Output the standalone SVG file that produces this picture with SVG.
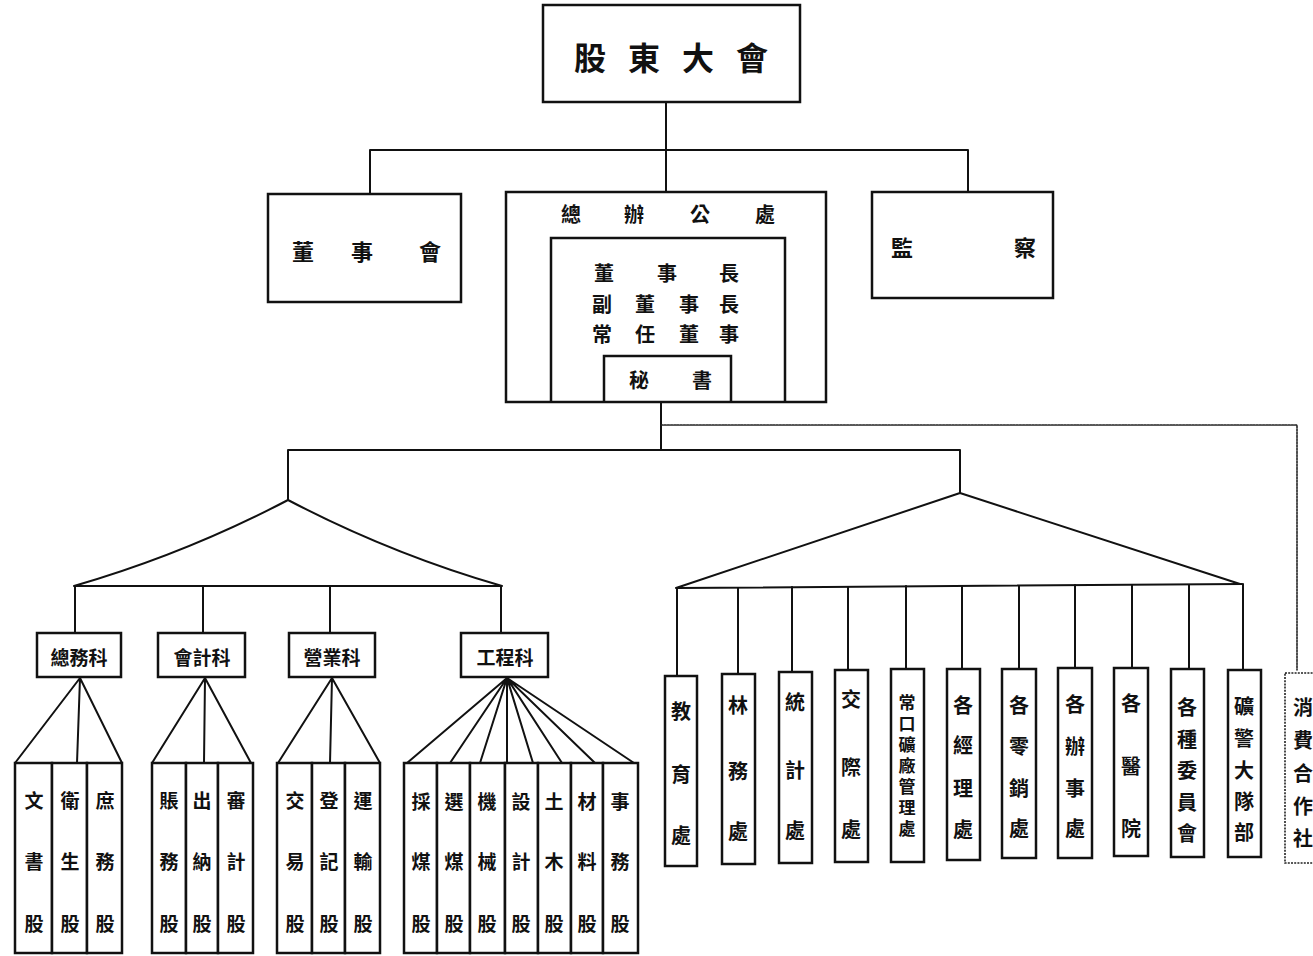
<svg xmlns="http://www.w3.org/2000/svg" width="1313" height="956" viewBox="0 0 1313 956">
<style>
  .bx{fill:#fff;stroke:#111;stroke-width:2.5}
  .ob{fill:none;stroke:#111;stroke-width:2.5}
  .dot{fill:none;stroke:#222;stroke-width:1.6;stroke-dasharray:2 1.2}
  .ln{fill:none;stroke:#111;stroke-width:2;stroke-linecap:round;stroke-linejoin:round}
  text{font-family:"Noto Sans CJK TC","Noto Sans CJK JP",sans-serif;font-weight:700;fill:#111;text-anchor:middle;dominant-baseline:central}
  .t32{font-size:32px}
  .t22{font-size:22px}
  .t20{font-size:20px}
  .t19{font-size:19px}
  .vt{font-size:17px;writing-mode:vertical-rl;letter-spacing:4px}
</style>
<rect width="1313" height="956" fill="#fff"/>
<g id="connectors" class="ln">
  <path d="M666,102 V150 M370,150 H968 M370,150 V194 M666,150 V192 M968,150 V192"/>
  <path d="M661,402 V450 M288,450 H960 M288,450 V500 M960,450 V493"/>
  <path d="M288,500 Q185,554 74,586 M288,500 Q391,554 502,586 M74,586 H502"/>
  <path d="M75,586 V633 M203,586 V633 M330,586 V633 M501,586 V633"/>
  <path d="M676,588 L960,493 L1240,584 M676,588 L1242,584"/>
  <path d="M677,588 V676 M738,588 V674 M792,587 V672 M848,587 V670 M906,586 V669 M962,586 V669 M1019,586 V669 M1075,585 V668 M1132,585 V668 M1189,585 V669 M1243,584 V670"/>
  <path d="M80,678 L15,763 M80,678 L77,763 M80,678 L122,763"/>
  <path d="M205,678 L152,763 M205,678 L204,763 M205,678 L251,763"/>
  <path d="M332,678 L278,763 M332,678 L330,763 M332,678 L380,763"/>
  <path d="M507,678 L407,763 M507,678 L450,763 M507,678 L480,763 M507,678 L507,763 M507,678 L533,763 M507,678 L562,763 M507,678 L595,763 M507,678 L634,763"/>
  <path class="dot" d="M661,425 H1297 V670"/>
</g>
<g id="n-gudong"><rect class="bx" x="543" y="5" width="257" height="97"/>
  <text class="t32"><tspan x="590" y="56">股</tspan><tspan x="644" y="56">東</tspan><tspan x="698" y="56">大</tspan><tspan x="752" y="56">會</tspan></text></g>
<g id="n-dongshihui"><rect class="bx" x="268" y="194" width="193" height="108"/>
  <text class="t22"><tspan x="303" y="250">董</tspan><tspan x="362" y="250">事</tspan><tspan x="430" y="250">會</tspan></text></g>
<g id="n-zongban"><rect class="bx" x="506" y="192" width="320" height="210"/>
  <text class="t20"><tspan x="571" y="213">總</tspan><tspan x="634" y="213">辦</tspan><tspan x="700" y="213">公</tspan><tspan x="765" y="213">處</tspan></text>
  <path class="ob" d="M551,402 V238 H785 V402"/>
  <text class="t20"><tspan x="604" y="272">董</tspan><tspan x="667" y="272">事</tspan><tspan x="729" y="272">長</tspan><tspan x="602" y="303">副</tspan><tspan x="645" y="303">董</tspan><tspan x="689" y="303">事</tspan><tspan x="729" y="303">長</tspan><tspan x="602" y="333">常</tspan><tspan x="645" y="333">任</tspan><tspan x="689" y="333">董</tspan><tspan x="729" y="333">事</tspan></text>
  <path class="ob" d="M604,402 V356 H731 V402"/>
  <text class="t20"><tspan x="639" y="379">秘</tspan><tspan x="702" y="379">書</tspan></text></g>
<g id="n-jiancha"><rect class="bx" x="872" y="192" width="181" height="106"/>
  <text class="t22"><tspan x="902" y="246">監</tspan><tspan x="1025" y="246">察</tspan></text></g>
<g id="n-zongwuke"><rect class="bx" x="37" y="633" width="84" height="44"/><text class="t19" x="79" y="656">總務科</text></g>
<g id="n-kuaijike"><rect class="bx" x="158" y="633" width="87" height="44"/><text class="t19" x="202" y="656">會計科</text></g>
<g id="n-yingyeke"><rect class="bx" x="289" y="633" width="86" height="44"/><text class="t19" x="332" y="656">營業科</text></g>
<g id="n-gongchengke"><rect class="bx" x="461" y="633" width="87" height="44"/><text class="t19" x="505" y="656">工程科</text></g>
<g id="c1"><rect class="bx" x="15" y="763" width="37" height="190"/><text class="t19"><tspan x="34" y="799">文</tspan><tspan x="34" y="860">書</tspan><tspan x="34" y="922">股</tspan></text></g>
<g id="c2"><rect class="bx" x="52" y="763" width="35" height="190"/><text class="t19"><tspan x="70" y="799">衛</tspan><tspan x="70" y="860">生</tspan><tspan x="70" y="922">股</tspan></text></g>
<g id="c3"><rect class="bx" x="87" y="763" width="35" height="190"/><text class="t19"><tspan x="105" y="799">庶</tspan><tspan x="105" y="860">務</tspan><tspan x="105" y="922">股</tspan></text></g>
<g id="c4"><rect class="bx" x="152" y="763" width="34" height="190"/><text class="t19"><tspan x="169" y="799">賬</tspan><tspan x="169" y="860">務</tspan><tspan x="169" y="922">股</tspan></text></g>
<g id="c5"><rect class="bx" x="186" y="763" width="32" height="190"/><text class="t19"><tspan x="202" y="799">出</tspan><tspan x="202" y="860">納</tspan><tspan x="202" y="922">股</tspan></text></g>
<g id="c6"><rect class="bx" x="218" y="763" width="35" height="190"/><text class="t19"><tspan x="236" y="799">審</tspan><tspan x="236" y="860">計</tspan><tspan x="236" y="922">股</tspan></text></g>
<g id="c7"><rect class="bx" x="277" y="763" width="35" height="190"/><text class="t19"><tspan x="295" y="799">交</tspan><tspan x="295" y="860">易</tspan><tspan x="295" y="922">股</tspan></text></g>
<g id="c8"><rect class="bx" x="312" y="763" width="33" height="190"/><text class="t19"><tspan x="329" y="799">登</tspan><tspan x="329" y="860">記</tspan><tspan x="329" y="922">股</tspan></text></g>
<g id="c9"><rect class="bx" x="345" y="763" width="35" height="190"/><text class="t19"><tspan x="363" y="799">運</tspan><tspan x="363" y="860">輸</tspan><tspan x="363" y="922">股</tspan></text></g>
<g id="c10"><rect class="bx" x="404" y="763" width="33" height="190"/><text class="t19"><tspan x="421" y="800">採</tspan><tspan x="421" y="860">煤</tspan><tspan x="421" y="922">股</tspan></text></g>
<g id="c11"><rect class="bx" x="437" y="763" width="33" height="190"/><text class="t19"><tspan x="454" y="800">選</tspan><tspan x="454" y="860">煤</tspan><tspan x="454" y="922">股</tspan></text></g>
<g id="c12"><rect class="bx" x="470" y="763" width="35" height="190"/><text class="t19"><tspan x="487" y="800">機</tspan><tspan x="487" y="860">械</tspan><tspan x="487" y="922">股</tspan></text></g>
<g id="c13"><rect class="bx" x="505" y="763" width="33" height="190"/><text class="t19"><tspan x="521" y="800">設</tspan><tspan x="521" y="860">計</tspan><tspan x="521" y="922">股</tspan></text></g>
<g id="c14"><rect class="bx" x="538" y="763" width="33" height="190"/><text class="t19"><tspan x="554" y="800">土</tspan><tspan x="554" y="860">木</tspan><tspan x="554" y="922">股</tspan></text></g>
<g id="c15"><rect class="bx" x="571" y="763" width="32" height="190"/><text class="t19"><tspan x="587" y="800">材</tspan><tspan x="587" y="860">料</tspan><tspan x="587" y="922">股</tspan></text></g>
<g id="c16"><rect class="bx" x="603" y="763" width="35" height="190"/><text class="t19"><tspan x="620" y="800">事</tspan><tspan x="620" y="860">務</tspan><tspan x="620" y="922">股</tspan></text></g>
<g id="r1"><rect class="bx" x="665" y="676" width="32" height="190"/><text class="t20"><tspan x="681" y="710">教</tspan><tspan x="681" y="773">育</tspan><tspan x="681" y="834">處</tspan></text></g>
<g id="r2"><rect class="bx" x="722" y="674" width="33" height="190"/><text class="t20"><tspan x="738" y="704">林</tspan><tspan x="738" y="770">務</tspan><tspan x="738" y="830">處</tspan></text></g>
<g id="r3"><rect class="bx" x="779" y="672" width="33" height="191"/><text class="t20"><tspan x="795" y="701">統</tspan><tspan x="795" y="769">計</tspan><tspan x="795" y="829">處</tspan></text></g>
<g id="r4"><rect class="bx" x="835" y="670" width="33" height="192"/><text class="t20"><tspan x="851" y="698">交</tspan><tspan x="851" y="766">際</tspan><tspan x="851" y="828">處</tspan></text></g>
<g id="r5"><rect class="bx" x="891" y="669" width="33" height="193"/><text class="vt" x="907" y="768">常口礦廠管理處</text></g>
<g id="r6"><rect class="bx" x="947" y="669" width="33" height="191"/><text class="t20"><tspan x="963" y="704">各</tspan><tspan x="963" y="744">經</tspan><tspan x="963" y="787">理</tspan><tspan x="963" y="828">處</tspan></text></g>
<g id="r7"><rect class="bx" x="1002" y="669" width="34" height="189"/><text class="t20"><tspan x="1019" y="704">各</tspan><tspan x="1019" y="745">零</tspan><tspan x="1019" y="787">銷</tspan><tspan x="1019" y="827">處</tspan></text></g>
<g id="r8"><rect class="bx" x="1058" y="668" width="34" height="190"/><text class="t20"><tspan x="1075" y="703">各</tspan><tspan x="1075" y="745">辦</tspan><tspan x="1075" y="787">事</tspan><tspan x="1075" y="827">處</tspan></text></g>
<g id="r9"><rect class="bx" x="1114" y="668" width="34" height="188"/><text class="t20"><tspan x="1131" y="702">各</tspan><tspan x="1131" y="765">醫</tspan><tspan x="1131" y="827">院</tspan></text></g>
<g id="r10"><rect class="bx" x="1171" y="669" width="33" height="188"/><text class="t20"><tspan x="1187" y="706">各</tspan><tspan x="1187" y="738">種</tspan><tspan x="1187" y="769">委</tspan><tspan x="1187" y="801">員</tspan><tspan x="1187" y="832">會</tspan></text></g>
<g id="r11"><rect class="bx" x="1228" y="670" width="33" height="187"/><text class="t20"><tspan x="1244" y="705">礦</tspan><tspan x="1244" y="737">警</tspan><tspan x="1244" y="769">大</tspan><tspan x="1244" y="800">隊</tspan><tspan x="1244" y="831">部</tspan></text></g>
<g id="r12"><rect class="dot" x="1285" y="673" width="45" height="190"/><text class="t20"><tspan x="1303" y="706">消</tspan><tspan x="1303" y="739">費</tspan><tspan x="1303" y="772">合</tspan><tspan x="1303" y="805">作</tspan><tspan x="1303" y="837">社</tspan></text></g>
</svg>
